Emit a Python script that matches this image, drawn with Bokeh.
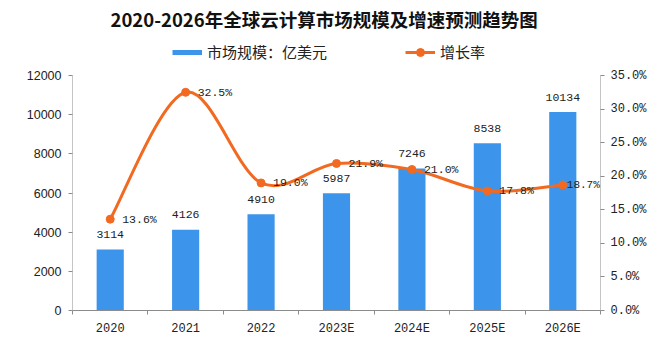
from bokeh.plotting import figure
from bokeh.models import (Range1d, LinearAxis, FixedTicker, PrintfTickFormatter,
                          Legend, LegendItem, ColumnDataSource, Label)
from bokeh.core.properties import value
from bokeh.embed import file_html
from bokeh.resources import INLINE

# ---- data ----
years = ["2020", "2021", "2022", "2023E", "2024E", "2025E", "2026E"]
market = [3114, 4126, 4910, 5987, 7246, 8538, 10134]          # 亿美元
growth = [13.6, 32.5, 19.0, 21.9, 21.0, 17.8, 18.7]           # %
left_ticks = [0, 2000, 4000, 6000, 8000, 10000, 12000]
right_ticks = [0, 5, 10, 15, 20, 25, 30, 35]
title_text = "2020-2026年全球云计算市场规模及增速预测趋势图"
bar_name = "市场规模：亿美元"
line_name = "增长率"

BLUE = "#3C95EA"
ORANGE = "#F26A21"
AXIS = "#8C8C8C"
TXT = "#222222"
MONO = "Liberation Mono"
CJK = "Noto Sans CJK SC"

# layout (pixels): plot area spans 75..310 vertically; the frame extends to the top
H, BOTTOM, TOP = 353, 43, 75
frame_h = H - BOTTOM
scale_up = frame_h / (frame_h - TOP)

xs = list(range(len(years)))
nan = float("nan")

p = figure(width=660, height=H, x_range=Range1d(-0.5, len(years) - 0.5),
           y_range=Range1d(0, left_ticks[-1] * scale_up), output_backend="svg",
           toolbar_location=None, min_border_left=72, min_border_right=60,
           min_border_top=0, min_border_bottom=BOTTOM)
p.title.visible = False
p.outline_line_color = None
p.xgrid.grid_line_color = None
p.ygrid.grid_line_color = None
p.background_fill_color = "white"
p.border_fill_color = "white"
p.extra_y_ranges = {"pct": Range1d(0, right_ticks[-1] * scale_up)}

src = ColumnDataSource(dict(x=xs, market=market, growth=growth,
                            mlab=[str(v) for v in market]))
last = len(years) - 1
src_head = ColumnDataSource(dict(x=xs[:last], growth=growth[:last],
                                 glab=["%.1f%%" % v for v in growth[:last]]))
src_tail = ColumnDataSource(dict(x=xs[last:], growth=growth[last:],
                                 glab=["%.1f%%" % v for v in growth[last:]]))

# axis lines limited to the tick span
x_lo, x_hi = p.x_range.start, p.x_range.end
p.segment(x0=[x_lo], y0=[left_ticks[0]], x1=[x_lo], y1=[left_ticks[-1]],
          line_color=AXIS, line_width=1)
p.segment(x0=[x_hi], y0=[right_ticks[0]], x1=[x_hi], y1=[right_ticks[-1]],
          line_color=AXIS, line_width=1, y_range_name="pct")

# bars
bars = p.vbar(x="x", top="market", width=0.36, source=src, color=BLUE, line_color=None)

# smooth growth curve (Catmull-Rom style bezier through the data points)
n = len(growth)
pts = list(zip(xs, growth))
bx0, by0, bx1, by1, cx0, cy0, cx1, cy1 = [], [], [], [], [], [], [], []
for i in range(n - 1):
    pm = pts[i - 1] if i > 0 else pts[i]
    p0 = pts[i]
    p1 = pts[i + 1]
    pp = pts[i + 2] if i + 2 < n else pts[i + 1]
    bx0.append(p0[0]); by0.append(p0[1])
    bx1.append(p1[0]); by1.append(p1[1])
    cx0.append(p0[0] + (p1[0] - pm[0]) / 6.0); cy0.append(p0[1] + (p1[1] - pm[1]) / 6.0)
    cx1.append(p1[0] - (pp[0] - p0[0]) / 6.0); cy1.append(p1[1] - (pp[1] - p0[1]) / 6.0)
p.bezier(x0=bx0, y0=by0, x1=bx1, y1=by1, cx0=cx0, cy0=cy0, cx1=cx1, cy1=cy1,
         line_color=ORANGE, line_width=3, y_range_name="pct")
p.scatter(x="x", y="growth", source=src, size=8, color=ORANGE, y_range_name="pct")

# data labels
p.text(x="x", y="market", text="mlab", source=src, text_align="center",
       text_baseline="middle", y_offset=-15, text_font=value(MONO),
       text_font_size="11.5px", text_color=TXT)
p.text(x="x", y="growth", text="glab", source=src_head, text_align="left",
       text_baseline="middle", x_offset=12, text_font=value(MONO),
       text_font_size="11.5px", text_color=TXT, y_range_name="pct")
p.text(x="x", y="growth", text="glab", source=src_tail, text_align="left",
       text_baseline="middle", x_offset=4, text_font=value(MONO),
       text_font_size="11px", text_color=TXT, y_range_name="pct")

# axes
xa = p.xaxis[0]
xa.ticker = FixedTicker(ticks=xs, minor_ticks=[i - 0.5 for i in range(len(years) + 1)])
xa.major_label_overrides = {i: y for i, y in enumerate(years)}
xa.major_tick_line_color = None
xa.minor_tick_line_color = AXIS
xa.minor_tick_out = 4
xa.minor_tick_in = 0
xa.axis_line_color = AXIS
xa.major_label_text_font = MONO
xa.major_label_text_font_size = "12px"
xa.major_label_text_color = TXT
xa.major_label_standoff = 5

ya = p.yaxis[0]
ya.ticker = FixedTicker(ticks=left_ticks)
ya.axis_line_color = None
ya.major_tick_line_color = AXIS
ya.major_tick_out = 4
ya.major_tick_in = 0
ya.minor_tick_line_color = None
ya.major_label_text_font = "Liberation Sans"
ya.major_label_text_font_size = "12.5px"
ya.major_label_text_color = TXT
ya.major_label_standoff = 7

ra = LinearAxis(y_range_name="pct", ticker=FixedTicker(ticks=right_ticks),
                formatter=PrintfTickFormatter(format="%.1f%%"))
ra.axis_line_color = None
ra.major_tick_line_color = AXIS
ra.major_tick_out = 4
ra.major_tick_in = 0
ra.minor_tick_line_color = None
ra.major_label_text_font = MONO
ra.major_label_text_font_size = "12px"
ra.major_label_text_color = TXT
ra.major_label_standoff = 6
p.add_layout(ra, "right")

# legend (invisible single-NaN renderers give the legend glyphs)
leg_bar = p.line(x=[0], y=[nan], line_color=BLUE, line_width=5)
leg_line = p.line(x=[0], y=[nan], line_color=ORANGE, line_width=3)
leg_dot = p.scatter(x=[0], y=[nan], color=ORANGE, size=8)

lg = Legend(items=[LegendItem(label=bar_name, renderers=[leg_bar]),
                   LegendItem(label=line_name, renderers=[leg_line, leg_dot])],
            location=(100, frame_h - 62), orientation="horizontal",
            padding=0, margin=0, spacing=78, glyph_width=30, glyph_height=20,
            label_height=20, label_standoff=5, border_line_alpha=0,
            background_fill_alpha=0, label_text_font=CJK,
            label_text_font_size="15px", label_text_color=TXT)
p.add_layout(lg)

# title
p.add_layout(Label(x=38, y=frame_h - 18, x_units="screen", y_units="screen",
                   text=title_text, text_align="left", text_baseline="middle",
                   text_font=CJK, text_font_size="18.5px", text_font_style="bold",
                   text_color="#111111"))

open("out.html", "w").write(file_html(p, INLINE))
